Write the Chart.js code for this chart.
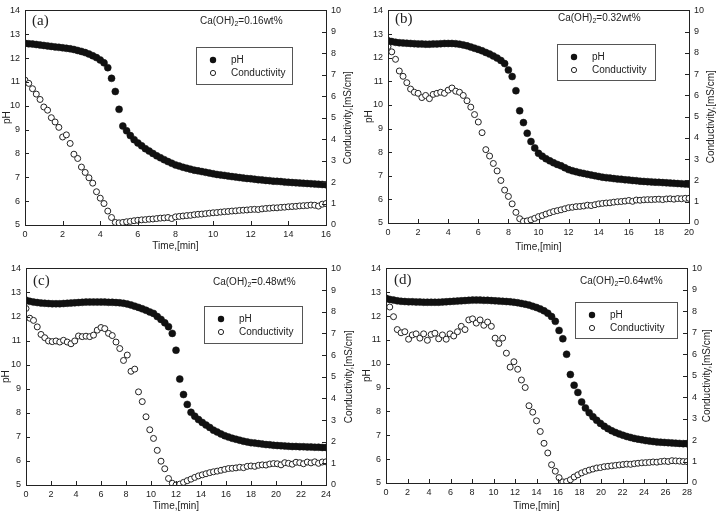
<!DOCTYPE html>
<html>
<head>
<meta charset="utf-8">
<script src="https://cdn.jsdelivr.net/npm/chart.js@4.4.0/dist/chart.umd.min.js"></script>
<style>
  body { margin: 0; background: #fff; }
  #wrap { position: relative; width: 724px; height: 516px; }
  canvas { position: absolute; }
</style>
</head>
<body>
<div id="wrap">
  <canvas id="ca" width="362" height="258" style="left:0;top:0"></canvas>
  <canvas id="cb" width="362" height="258" style="left:362px;top:0"></canvas>
  <canvas id="cc" width="362" height="258" style="left:0;top:258px"></canvas>
  <canvas id="cd" width="362" height="258" style="left:362px;top:258px"></canvas>
</div>
<script>
// (a) Ca(OH)2 = 0.16 wt%
const timeA = [0,0.2,0.4,0.6,0.8,1,1.2,1.4,1.6,1.8,
  2,2.2,2.4,2.6,2.8,3,3.2,3.4,3.6,3.8,
  4,4.2,4.4,4.6,4.8,5,5.2,5.4,5.6,5.8,
  6,6.2,6.4,6.6,6.8,7,7.2,7.4,7.6,7.8,
  8,8.2,8.4,8.6,8.8,9,9.2,9.4,9.6,9.8,
  10,10.2,10.4,10.6,10.8,11,11.2,11.4,11.6,11.8,
  12,12.2,12.4,12.6,12.8,13,13.2,13.4,13.6,13.8,
  14,14.2,14.4,14.6,14.8,15,15.2,15.4,15.6,15.8,
  16]
const phA = [12.62,12.6,12.59,12.57,12.55,12.53,12.51,12.49,12.47,12.45,
  12.43,12.41,12.39,12.36,12.32,12.28,12.23,12.17,12.1,12.02,
  11.92,11.8,11.6,11.15,10.6,9.85,9.15,8.95,8.75,8.58,
  8.44,8.32,8.2,8.1,8.0,7.9,7.82,7.74,7.66,7.59,
  7.52,7.47,7.42,7.38,7.34,7.3,7.27,7.24,7.21,7.18,
  7.15,7.12,7.1,7.08,7.05,7.03,7.01,6.99,6.97,6.95,
  6.94,6.92,6.9,6.89,6.87,6.86,6.84,6.83,6.82,6.8,
  6.79,6.78,6.77,6.76,6.75,6.74,6.73,6.72,6.71,6.7,
  6.69]
const condA = [6.75,6.6,6.35,6.1,5.85,5.5,5.35,5.0,4.8,4.55,
  4.1,4.2,3.8,3.3,3.1,2.7,2.45,2.2,1.95,1.55,
  1.25,1.0,0.65,0.35,0.12,0.1,0.12,0.15,0.17,0.2,
  0.22,0.24,0.25,0.27,0.28,0.3,0.32,0.33,0.35,0.3,
  0.38,0.4,0.42,0.44,0.45,0.48,0.5,0.51,0.53,0.55,
  0.57,0.58,0.6,0.62,0.63,0.65,0.66,0.68,0.69,0.7,
  0.72,0.73,0.72,0.75,0.77,0.78,0.8,0.8,0.82,0.83,
  0.85,0.86,0.87,0.89,0.9,0.91,0.93,0.92,0.88,0.97,
  1.0]

// (b) Ca(OH)2 = 0.32 wt%
const timeB = [0,0.25,0.5,0.75,1,1.25,1.5,1.75,2,2.25,
  2.5,2.75,3,3.25,3.5,3.75,4,4.25,4.5,4.75,
  5,5.25,5.5,5.75,6,6.25,6.5,6.75,7,7.25,
  7.5,7.75,8,8.25,8.5,8.75,9,9.25,9.5,9.75,
  10,10.25,10.5,10.75,11,11.25,11.5,11.75,12,12.25,
  12.5,12.75,13,13.25,13.5,13.75,14,14.25,14.5,14.75,
  15,15.25,15.5,15.75,16,16.25,16.5,16.75,17,17.25,
  17.5,17.75,18,18.25,18.5,18.75,19,19.25,19.5,19.75,
  20]
const phB = [12.72,12.68,12.65,12.63,12.62,12.61,12.6,12.59,12.58,12.58,
  12.57,12.57,12.58,12.58,12.59,12.6,12.6,12.6,12.59,12.57,
  12.54,12.5,12.45,12.4,12.35,12.29,12.22,12.15,12.07,11.98,
  11.88,11.75,11.48,11.2,10.6,9.75,9.25,8.8,8.45,8.18,
  7.95,7.83,7.72,7.63,7.55,7.48,7.42,7.34,7.26,7.21,
  7.17,7.13,7.1,7.06,7.03,7.0,6.97,6.94,6.92,6.9,
  6.88,6.86,6.85,6.83,6.82,6.8,6.79,6.77,6.76,6.75,
  6.74,6.73,6.72,6.71,6.7,6.69,6.68,6.67,6.66,6.65,
  6.64]
const condB = [8.3,8.05,7.7,7.15,6.9,6.6,6.3,6.15,6.1,5.9,
  6.0,5.85,6.05,6.1,6.15,6.1,6.25,6.35,6.2,6.15,
  6.0,5.75,5.45,5.1,4.75,4.25,3.45,3.15,2.8,2.45,
  2.0,1.55,1.25,0.9,0.5,0.2,0.08,0.1,0.15,0.22,
  0.3,0.35,0.42,0.48,0.54,0.58,0.62,0.67,0.72,0.74,
  0.77,0.78,0.8,0.84,0.82,0.86,0.9,0.92,0.94,0.95,
  0.98,1.0,1.01,1.03,1.06,1.02,1.08,1.07,1.09,1.1,
  1.1,1.11,1.12,1.1,1.13,1.14,1.12,1.15,1.14,1.16,
  1.16]

// (c) Ca(OH)2 = 0.48 wt%
const timeC = [0,0.3,0.6,0.9,1.2,1.5,1.8,2.1,2.4,2.7,
  3,3.3,3.6,3.9,4.2,4.5,4.8,5.1,5.4,5.7,
  6,6.3,6.6,6.9,7.2,7.5,7.8,8.1,8.4,8.7,
  9,9.3,9.6,9.9,10.2,10.5,10.8,11.1,11.4,11.7,
  12,12.3,12.6,12.9,13.2,13.5,13.8,14.1,14.4,14.7,
  15,15.3,15.6,15.9,16.2,16.5,16.8,17.1,17.4,17.7,
  18,18.3,18.6,18.9,19.2,19.5,19.8,20.1,20.4,20.7,
  21,21.3,21.6,21.9,22.2,22.5,22.8,23.1,23.4,23.7,
  24]
const phC = [12.68,12.63,12.6,12.58,12.56,12.55,12.54,12.53,12.53,12.53,
  12.54,12.55,12.56,12.57,12.58,12.59,12.6,12.6,12.6,12.6,
  12.6,12.6,12.59,12.59,12.58,12.57,12.55,12.52,12.48,12.43,
  12.38,12.32,12.26,12.19,12.13,12.0,11.88,11.74,11.58,11.3,
  10.6,9.4,8.76,8.35,8.02,7.86,7.72,7.6,7.49,7.39,
  7.28,7.2,7.12,7.05,6.99,6.94,6.9,6.86,6.82,6.79,
  6.76,6.74,6.72,6.7,6.68,6.67,6.65,6.64,6.63,6.62,
  6.61,6.6,6.6,6.59,6.59,6.58,6.58,6.57,6.57,6.56,
  6.56]
const condC = [8.15,7.7,7.6,7.3,6.95,6.8,6.65,6.62,6.65,6.6,
  6.68,6.6,6.52,6.65,6.88,6.85,6.87,6.85,6.92,7.15,
  7.27,7.22,7.0,6.9,6.6,6.3,5.75,6.0,5.25,5.35,
  4.3,3.85,3.15,2.55,2.15,1.6,1.1,0.75,0.3,0.08,
  0.0,0.04,0.12,0.2,0.27,0.35,0.42,0.47,0.52,0.57,
  0.61,0.64,0.68,0.72,0.76,0.77,0.79,0.82,0.8,0.86,
  0.88,0.86,0.91,0.93,0.92,0.97,0.99,0.98,0.93,1.03,
  1.0,0.96,1.05,1.03,0.98,1.06,1.02,1.07,1.0,1.06,
  1.07]

// (d) Ca(OH)2 = 0.64 wt%
const timeD = [0,0.35,0.7,1.05,1.4,1.75,2.1,2.45,2.8,3.15,
  3.5,3.85,4.2,4.55,4.9,5.25,5.6,5.95,6.3,6.65,
  7,7.35,7.7,8.05,8.4,8.75,9.1,9.45,9.8,10.15,
  10.5,10.85,11.2,11.55,11.9,12.25,12.6,12.95,13.3,13.65,
  14,14.35,14.7,15.05,15.4,15.75,16.1,16.45,16.8,17.15,
  17.5,17.85,18.2,18.55,18.9,19.25,19.6,19.95,20.3,20.65,
  21,21.35,21.7,22.05,22.4,22.75,23.1,23.45,23.8,24.15,
  24.5,24.85,25.2,25.55,25.9,26.25,26.6,26.95,27.3,27.65,
  28]
const phD = [12.75,12.7,12.67,12.64,12.62,12.61,12.6,12.6,12.59,12.59,
  12.58,12.58,12.58,12.58,12.58,12.59,12.6,12.61,12.62,12.63,
  12.64,12.65,12.66,12.67,12.67,12.67,12.66,12.66,12.65,12.64,
  12.63,12.62,12.61,12.6,12.58,12.56,12.53,12.5,12.46,12.41,
  12.36,12.3,12.22,12.12,11.98,11.78,11.4,11.05,10.4,9.55,
  9.1,8.8,8.4,8.15,7.95,7.78,7.63,7.5,7.38,7.28,
  7.19,7.12,7.06,7.0,6.95,6.91,6.87,6.84,6.81,6.78,
  6.76,6.74,6.72,6.71,6.7,6.69,6.68,6.67,6.66,6.65,
  6.65]
const condD = [8.58,8.2,7.75,7.15,7.0,7.05,6.7,6.9,6.95,6.75,
  6.95,6.65,6.92,6.98,6.72,6.9,6.7,6.95,6.85,7.05,
  7.3,7.15,7.6,7.65,7.45,7.6,7.35,7.5,7.3,6.75,
  6.5,6.75,6.05,5.4,5.65,5.3,4.8,4.45,3.6,3.3,
  2.9,2.4,1.85,1.4,0.85,0.55,0.25,0.05,0.07,0.15,
  0.28,0.38,0.47,0.54,0.6,0.65,0.7,0.72,0.76,0.78,
  0.8,0.82,0.84,0.86,0.88,0.87,0.9,0.92,0.94,0.95,
  0.96,0.98,0.97,1.0,1.02,1.0,1.04,1.03,1.02,1.0,
  1.0]

const panelNames = ['(a)', '(b)', '(c)', '(d)']
const concentrations = ['0.16', '0.32', '0.48', '0.64']
const timeMax = [16, 20, 24, 28]

const SANS = '"Liberation Sans", Arial, sans-serif'
const INK = '#222'

// layout of each panel inside its own 362x258 canvas
const panels = [
    { canvas: 'ca', time: timeA, ph: phA, cond: condA,
      area: { l: 25, r: 326, t: 8, b: 225 }, legend: { x: 196, y: 47, w: 96, h: 37 },
      conc: { x: 200, y: 21 }, tag: { x: 32, y: 21 }, phX: 7, condX: 348, timeY: 246 },
    { canvas: 'cb', time: timeB, ph: phB, cond: condB,
      area: { l: 26, r: 327, t: 8, b: 223 }, legend: { x: 195, y: 44, w: 98, h: 36 },
      conc: { x: 196, y: 18 }, tag: { x: 33, y: 19 }, phX: 7, condX: 349, timeY: 247 },
    { canvas: 'cc', time: timeC, ph: phC, cond: condC,
      area: { l: 26, r: 326, t: 10, b: 227 }, legend: { x: 204, y: 48, w: 98, h: 37 },
      conc: { x: 213, y: 24 }, tag: { x: 33, y: 23 }, phX: 6, condX: 349, timeY: 248 },
    { canvas: 'cd', time: timeD, ph: phD, cond: condD,
      area: { l: 24, r: 325, t: 9, b: 225 }, legend: { x: 213, y: 44, w: 102, h: 36 },
      conc: { x: 218, y: 23 }, tag: { x: 32, y: 22 }, phX: 5, condX: 345, timeY: 248 }
]

function makeDecor(p, idx) {
    return {
        id: 'decor',
        afterDraw(chart) {
            const ctx = chart.ctx
            const a = chart.chartArea
            const sx = chart.scales.x, sy = chart.scales.y, sy2 = chart.scales.y2
            ctx.save()
            ctx.strokeStyle = INK
            ctx.lineWidth = 1
            ctx.strokeRect(Math.round(a.left) + 0.5, Math.round(a.top) + 0.5,
                Math.round(a.right - a.left), Math.round(a.bottom - a.top))

            // inward tick marks
            const L = 4
            ctx.beginPath()
            sx.ticks.forEach(t => {
                const x = Math.round(sx.getPixelForValue(t.value)) + 0.5
                ctx.moveTo(x, a.bottom); ctx.lineTo(x, a.bottom - L)
            })
            sy.ticks.forEach(t => {
                const y = Math.round(sy.getPixelForValue(t.value)) + 0.5
                ctx.moveTo(a.left, y); ctx.lineTo(a.left + L, y)
            })
            sy2.ticks.forEach(t => {
                const y = Math.round(sy2.getPixelForValue(t.value)) + 0.5
                ctx.moveTo(a.right, y); ctx.lineTo(a.right - L, y)
            })
            ctx.stroke()

            ctx.fillStyle = INK
            ctx.textBaseline = 'middle'

            // axis titles
            ctx.font = '10px ' + SANS
            ctx.textAlign = 'center'
            ctx.fillText('Time,[min]', (a.left + a.right) / 2, p.timeY)
            const midY = (a.top + a.bottom) / 2
            ctx.save()
            ctx.translate(p.phX, midY)
            ctx.rotate(-Math.PI / 2)
            ctx.fillText('pH', 0, 0)
            ctx.restore()
            ctx.save()
            ctx.translate(p.condX, midY)
            ctx.rotate(-Math.PI / 2)
            ctx.fillText('Conductivity,[mS/cm]', 0, 0)
            ctx.restore()

            // panel tag
            ctx.textAlign = 'left'
            ctx.font = '15px "Liberation Serif", "Times New Roman", serif'
            ctx.fillText(panelNames[idx], p.tag.x, p.tag.y)

            // concentration note with subscript
            ctx.font = '10px ' + SANS
            let x = p.conc.x
            ctx.fillText('Ca(OH)', x, p.conc.y)
            x += ctx.measureText('Ca(OH)').width
            ctx.font = '7px ' + SANS
            ctx.fillText('2', x, p.conc.y + 3)
            x += ctx.measureText('2').width
            ctx.font = '10px ' + SANS
            ctx.fillText('=' + concentrations[idx] + 'wt%', x, p.conc.y)

            // legend box
            const g = p.legend
            ctx.strokeStyle = '#555'
            ctx.strokeRect(g.x + 0.5, g.y + 0.5, g.w, g.h)
            const mx = g.x + 17, r1 = g.y + 13, r2 = g.y + 26
            ctx.beginPath()
            ctx.arc(mx, r1, 3.2, 0, Math.PI * 2)
            ctx.fillStyle = '#111'
            ctx.fill()
            ctx.beginPath()
            ctx.arc(mx, r2, 2.6, 0, Math.PI * 2)
            ctx.strokeStyle = INK
            ctx.stroke()
            ctx.fillStyle = INK
            ctx.fillText('pH', g.x + 35, r1)
            ctx.fillText('Conductivity', g.x + 35, r2)
            ctx.restore()
        }
    }
}

const tickFont = { family: SANS, size: 9 }

panels.forEach((p, idx) => {
    const phPoints = p.time.map((t, i) => ({ x: t, y: p.ph[i] }))
    const condPoints = p.time.map((t, i) => ({ x: t, y: p.cond[i] }))
    const hiddenGrid = { display: false, drawTicks: false, tickLength: 0 }

    new Chart(document.getElementById(p.canvas).getContext('2d'), {
        type: 'scatter',
        data: {
            datasets: [
                {
                    label: 'pH',
                    data: phPoints,
                    yAxisID: 'y',
                    pointRadius: 3.5,
                    pointBackgroundColor: '#111',
                    pointBorderColor: '#111',
                    pointBorderWidth: 0.5
                },
                {
                    label: 'Conductivity',
                    data: condPoints,
                    yAxisID: 'y2',
                    pointRadius: 3,
                    pointBackgroundColor: '#fff',
                    pointBorderColor: '#222',
                    pointBorderWidth: 1
                }
            ]
        },
        options: {
            responsive: false,
            animation: false,
            devicePixelRatio: 1,
            layout: { padding: { top: p.area.t, left: 0, right: 0, bottom: 0 } },
            plugins: { legend: { display: false }, tooltip: { enabled: false } },
            scales: {
                x: {
                    type: 'linear',
                    position: 'bottom',
                    min: 0,
                    max: timeMax[idx],
                    grid: hiddenGrid,
                    border: { display: false },
                    ticks: { stepSize: 2, padding: 4, maxRotation: 0, autoSkip: false, font: tickFont, color: INK },
                    afterFit: s => { s.height = 258 - p.area.b }
                },
                y: {
                    position: 'left',
                    min: 5,
                    max: 14,
                    grid: hiddenGrid,
                    border: { display: false },
                    ticks: { stepSize: 1, padding: 5, font: tickFont, color: INK },
                    afterFit: s => { s.width = p.area.l }
                },
                y2: {
                    position: 'right',
                    min: 0,
                    max: 10,
                    grid: hiddenGrid,
                    border: { display: false },
                    ticks: { stepSize: 1, padding: 5, font: tickFont, color: INK },
                    afterFit: s => { s.width = 362 - p.area.r }
                }
            }
        },
        plugins: [makeDecor(p, idx)]
    })
})
</script>
</body>
</html>
